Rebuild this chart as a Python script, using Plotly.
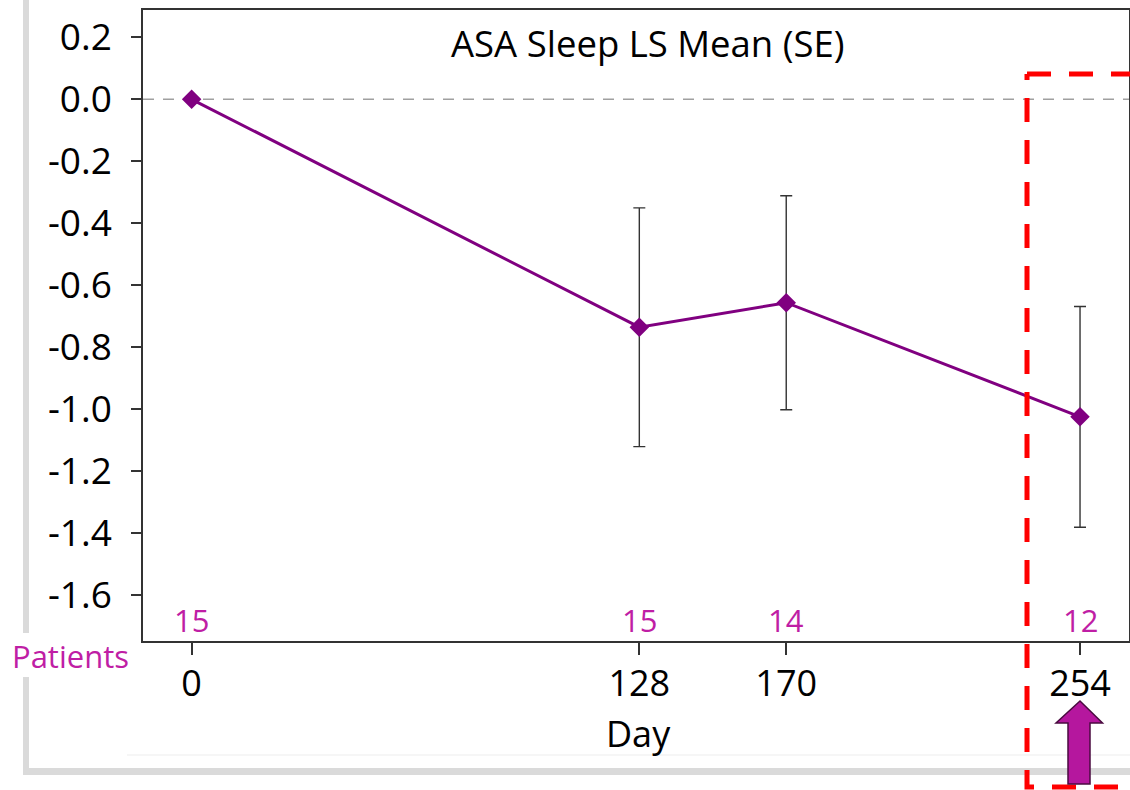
import plotly.graph_objects as go

# ---- data ----
days = [0, 128, 170, 254]
ls_mean = [0.0, -0.735, -0.656, -1.024]
se = [0.0, 0.385, 0.345, 0.356]
patients = [15, 15, 14, 12]
y_tickvals = [0.2, 0.0, -0.2, -0.4, -0.6, -0.8, -1.0, -1.2, -1.4, -1.6]
y_ticktext = ["0.2", "0.0", "-0.2", "-0.4", "-0.6", "-0.8", "-1.0", "-1.2", "-1.4", "-1.6"]
title_text = "ASA Sleep LS Mean (SE)"

FONT = "Open Sans"
PURPLE = "#800080"
MAGENTA = "#BF1EA5"

# plot-area pixel frame
L, R, T, B = 143, 1129, 10, 641
W, H = R - L, B - T
def px(x):
    return (x - L) / W
def py(y):
    return (B - y) / H

fig = go.Figure()
fig.add_trace(go.Scatter(
    x=days, y=ls_mean, mode="lines+markers",
    line=dict(color=PURPLE, width=3),
    marker=dict(symbol="diamond", size=15, color=PURPLE),
    error_y=dict(type="data", array=se, visible=True, color="#333333",
                 thickness=1.4, width=6),
    showlegend=False, hoverinfo="skip",
))

shapes = []
# zero reference line
shapes.append(dict(type="line", xref="paper", yref="y", x0=0, x1=1, y0=0, y1=0,
                   line=dict(color="#A0A0A0", width=1.5, dash="11px,9px"), layer="below"))
# slide frame (light gray)
shapes.append(dict(type="rect", xref="paper", yref="paper",
                   x0=px(23), x1=px(29), y0=py(775), y1=py(-5),
                   fillcolor="#DADADA", line=dict(width=0), layer="above"))
shapes.append(dict(type="rect", xref="paper", yref="paper",
                   x0=px(23), x1=px(1135), y0=py(775), y1=py(768),
                   fillcolor="#DADADA", line=dict(width=0), layer="above"))
shapes.append(dict(type="line", xref="paper", yref="paper",
                   x0=px(127), x1=px(1135), y0=py(755), y1=py(755),
                   line=dict(color="#EDEDED", width=1), layer="above"))
# white box behind "Patients"
shapes.append(dict(type="rect", xref="paper", yref="paper",
                   x0=px(0), x1=px(134), y0=py(677), y1=py(633),
                   fillcolor="white", line=dict(width=0), layer="above"))
# red dashed highlight box
shapes.append(dict(type="path", xref="paper", yref="paper",
                   path=f"M {px(1027)},{py(74)} L {px(1140)},{py(74)}",
                   line=dict(color="#FF0000", width=5, dash="24px,18px"), layer="above"))
shapes.append(dict(type="path", xref="paper", yref="paper",
                   path=f"M {px(1027)},{py(74)} L {px(1027)},{py(787)} L {px(1140)},{py(787)}",
                   line=dict(color="#FF0000", width=5, dash="6px,18px," + "24px,18px," * 22 + "24px"),
                   layer="above"))
# purple up-arrow
pts = [(1080, 701), (1102.5, 723), (1090, 723), (1090, 784), (1068, 784), (1068, 723), (1056, 723)]
path = "M " + " L ".join(f"{px(x)},{py(y)}" for x, y in pts) + " Z"
shapes.append(dict(type="path", xref="paper", yref="paper", path=path,
                   fillcolor="#B5179E", line=dict(color="#4A0B40", width=1.5), layer="above"))

annotations = []
for d, n in zip(days, patients):
    annotations.append(dict(x=d, y=-1.68, xref="x", yref="y", text=str(n), showarrow=False,
                            xanchor="center", yanchor="middle",
                            font=dict(family=FONT, size=31, color=MAGENTA)))
annotations.append(dict(x=px(70), y=py(656), xref="paper", yref="paper", text="Patients",
                        showarrow=False, xanchor="center", yanchor="middle",
                        font=dict(family=FONT, size=31, color=MAGENTA)))
annotations.append(dict(x=px(648), y=py(43), xref="paper", yref="paper", text=title_text,
                        showarrow=False, xanchor="center", yanchor="middle",
                        font=dict(family=FONT, size=36.5, color="black")))
annotations.append(dict(x=px(638), y=py(733), xref="paper", yref="paper", text="Day",
                        showarrow=False, xanchor="center", yanchor="middle",
                        font=dict(family=FONT, size=36, color="black")))

fig.update_layout(
    width=1130, height=790,
    margin=dict(l=L, r=1130 - R, t=T, b=790 - B, autoexpand=False),
    paper_bgcolor="white", plot_bgcolor="white",
    font=dict(family=FONT, color="black"),
    shapes=shapes, annotations=annotations,
    xaxis=dict(range=[-13.9, 268], tickvals=days, ticktext=[str(d) for d in days],
               showgrid=False, zeroline=False, showline=True, linecolor="#333333", linewidth=1.5,
               mirror=True, ticks="outside", ticklen=12, tickcolor="#333333", tickwidth=1.5,
               tickfont=dict(family=FONT, size=36, color="black"), ticklabelstandoff=-2),
    yaxis=dict(range=[-1.747, 0.288], tickvals=y_tickvals, ticktext=y_ticktext,
               showgrid=False, zeroline=False, showline=True, linecolor="#333333", linewidth=1.5,
               mirror=True, ticks="outside", ticklen=10, tickcolor="#333333", tickwidth=1.5,
               tickfont=dict(family=FONT, size=37, color="black"), ticklabelstandoff=12),
)

fig.write_html("out.html", config={"displayModeBar": False},
               post_script="document.body.style.margin='0';")
